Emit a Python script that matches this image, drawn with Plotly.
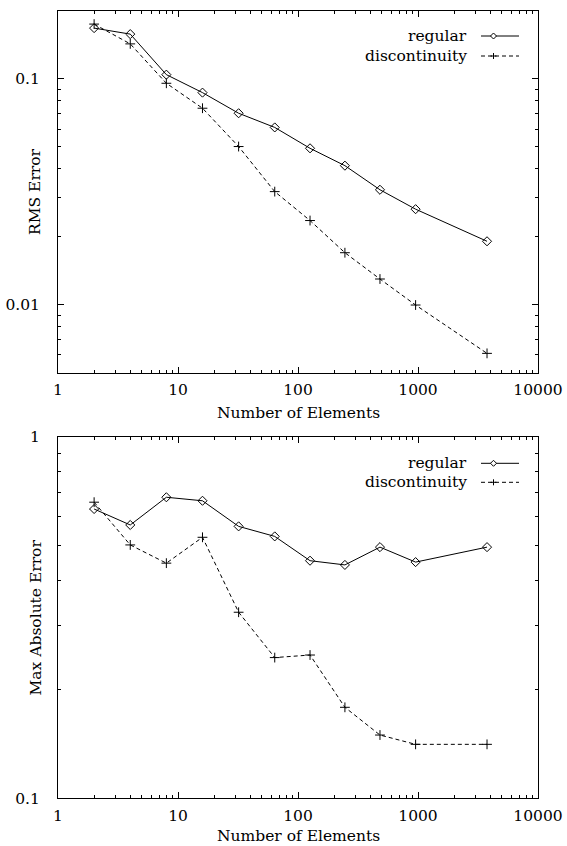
import plotly.graph_objects as go

# ---- data ----
n_elements = [2, 4, 8, 16, 32, 64, 126, 246, 482, 955, 3760]
rms_regular = [0.168, 0.158, 0.1045, 0.087, 0.0705, 0.061, 0.0493, 0.0413, 0.0323, 0.0265, 0.0191]
rms_discontinuity = [0.175, 0.143, 0.0957, 0.0742, 0.0502, 0.0317, 0.0236, 0.0170, 0.0130, 0.00997, 0.00609]
max_regular = [0.631, 0.570, 0.680, 0.665, 0.565, 0.530, 0.454, 0.442, 0.495, 0.450, 0.495]
max_discontinuity = [0.659, 0.502, 0.447, 0.527, 0.327, 0.245, 0.249, 0.1785, 0.1496, 0.141, 0.141]

x_ticks = [1, 10, 100, 1000, 10000]
x_ticklabels = ["1", "10", "100", "1000", "10000"]
rms_ticks = [0.01, 0.1]
rms_ticklabels = ["0.01", "0.1"]
max_ticks = [0.1, 1]
max_ticklabels = ["0.1", "1"]
series_names = ["regular", "discontinuity"]

W, H = 567, 846
FONT = "DejaVu Serif"
FS = 15.5


def px_x(p):
    return p / W


def px_y(p):
    return 1 - p / H


def minor_vals(lo_exp, hi_exp):
    vals = []
    for e in range(lo_exp, hi_exp + 1):
        for m in range(2, 10):
            vals.append(m * 10 ** e)
    return vals


fig = go.Figure()

styles = [
    dict(line=dict(color="black", width=1), marker=dict(symbol="diamond-open", size=7, color="black", line=dict(width=1, color="black"))),
    dict(line=dict(color="black", width=1, dash="4px,3px"), marker=dict(symbol="cross-thin", size=7, color="black", line=dict(width=1, color="black"))),
]

for ys, ax in [((rms_regular, rms_discontinuity), ("x", "y")), ((max_regular, max_discontinuity), ("x2", "y2"))]:
    for i, y in enumerate(ys):
        fig.add_trace(go.Scatter(
            x=n_elements, y=y, mode="lines+markers", name=series_names[i],
            xaxis=ax[0], yaxis=ax[1], showlegend=False,
            line=styles[i]["line"], marker=styles[i]["marker"],
        ))

x_dom = [px_x(58), px_x(538)]
top_dom = [px_y(372.7), px_y(11)]
bot_dom = [px_y(798.3), px_y(436.7)]

common_axis = dict(
    type="log", showline=True, linecolor="black", linewidth=1, mirror="allticks",
    ticks="inside", ticklen=6, tickwidth=1, tickcolor="black",
    showgrid=False, zeroline=False, automargin=False,
    tickfont=dict(family=FONT, size=FS, color="black"),
)

xaxis_common = dict(common_axis, range=[0, 4], tickmode="array", tickvals=x_ticks, ticktext=x_ticklabels,
                    minor=dict(tickmode="array", tickvals=minor_vals(0, 3), ticks="inside", ticklen=3, tickcolor="black", tickwidth=1),
                    ticklabelstandoff=3)

fig.update_layout(
    template="none",
    width=W, height=H, autosize=False,
    margin=dict(l=0, r=0, t=0, b=0, pad=0),
    paper_bgcolor="white", plot_bgcolor="white",
    font=dict(family=FONT, size=FS, color="black"),
    xaxis=dict(xaxis_common, domain=x_dom, anchor="y"),
    yaxis=dict(common_axis, domain=top_dom, anchor="x",
               range=[-2.30103, -0.69897], tickmode="array", tickvals=rms_ticks, ticktext=rms_ticklabels,
               minor=dict(tickmode="array", tickvals=minor_vals(-3, -1), ticks="inside", ticklen=3, tickcolor="black", tickwidth=1),
               ticklabelstandoff=14),
    xaxis2=dict(xaxis_common, domain=x_dom, anchor="y2"),
    yaxis2=dict(common_axis, domain=bot_dom, anchor="x2",
                range=[-1, 0], tickmode="array", tickvals=max_ticks, ticktext=max_ticklabels,
                minor=dict(tickmode="array", tickvals=minor_vals(-1, -1), ticks="inside", ticklen=3, tickcolor="black", tickwidth=1),
                ticklabelstandoff=14),
    showlegend=False,
)

annotations = []
shapes = []

# axis titles
annotations.append(dict(text="Number of Elements", x=px_x(298), y=px_y(413), xref="paper", yref="paper",
                        showarrow=False, xanchor="center", yanchor="middle", font=dict(family=FONT, size=FS)))
annotations.append(dict(text="Number of Elements", x=px_x(298), y=0, xref="paper", yref="paper",
                        showarrow=False, xanchor="center", yanchor="bottom", borderpad=0,
                        font=dict(family=FONT, size=FS)))
for ytitle, cy in [("RMS Error", 192), ("Max Absolute Error", 617.5)]:
    annotations.append(dict(text=ytitle, x=px_x(35), y=px_y(cy), xref="paper", yref="paper", textangle=-90,
                            showarrow=False, xanchor="center", yanchor="middle", font=dict(family=FONT, size=FS)))

# manual gnuplot-style legends
for rows in [(36, 56), (463.3, 482.3)]:
    for i, cy in enumerate(rows):
        annotations.append(dict(text=series_names[i], x=px_x(469), y=px_y(cy), xref="paper", yref="paper",
                                showarrow=False, xanchor="right", yanchor="middle", font=dict(family=FONT, size=FS)))
        shapes.append(dict(type="line", xref="paper", yref="paper", x0=px_x(481), x1=px_x(519), y0=px_y(cy), y1=px_y(cy),
                           line=dict(color="black", width=1, dash="solid" if i == 0 else "4px,3px")))
        mx = 493.5
        if i == 0:
            d = 3
            path = (f"M {px_x(mx - d)},{px_y(cy)} L {px_x(mx)},{px_y(cy - d)} L {px_x(mx + d)},{px_y(cy)} "
                    f"L {px_x(mx)},{px_y(cy + d)} Z")
            shapes.append(dict(type="path", xref="paper", yref="paper", path=path,
                               line=dict(color="black", width=1), fillcolor="white"))
        else:
            d = 3
            shapes.append(dict(type="line", xref="paper", yref="paper", x0=px_x(mx - d), x1=px_x(mx + d),
                               y0=px_y(cy), y1=px_y(cy), line=dict(color="black", width=1)))
            shapes.append(dict(type="line", xref="paper", yref="paper", x0=px_x(mx), x1=px_x(mx),
                               y0=px_y(cy - d), y1=px_y(cy + d), line=dict(color="black", width=1)))

fig.update_layout(annotations=annotations, shapes=shapes)

fig.write_html("out.html")
